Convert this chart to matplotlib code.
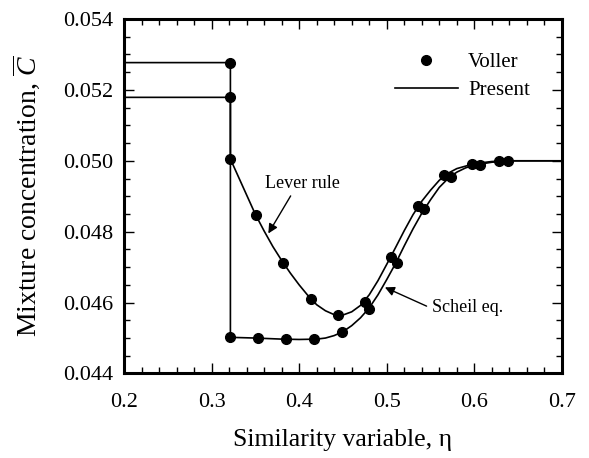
import matplotlib
matplotlib.use("Agg")
import matplotlib.pyplot as plt
from matplotlib.ticker import MultipleLocator, FormatStrFormatter
from matplotlib.lines import Line2D

plt.rcParams["font.family"] = ["Liberation Serif", "DejaVu Serif"]
plt.rcParams["mathtext.fontset"] = "custom"
plt.rcParams["mathtext.rm"] = "Liberation Serif"
plt.rcParams["mathtext.it"] = "Liberation Serif:italic"

# Voller data points
lever_pts_x = [0.3215, 0.3215, 0.3507, 0.3819, 0.4131, 0.4439, 0.4751, 0.5048, 0.536, 0.5657, 0.5976, 0.6285]
lever_pts_y = [0.05179, 0.05005, 0.04846, 0.04711, 0.04609, 0.04564, 0.04602, 0.04730, 0.04873, 0.04960, 0.04991, 0.05000]
scheil_pts_x = [0.3215, 0.3215, 0.3526, 0.3845, 0.4169, 0.4489, 0.480, 0.5113, 0.5425, 0.573, 0.6064, 0.638]
scheil_pts_y = [0.05277, 0.04502, 0.04500, 0.04496, 0.04497, 0.04517, 0.04583, 0.04713, 0.04864, 0.04955, 0.04989, 0.05000]

# Present results (curves)
lever_x = [0.20, 0.3215, 0.3215, 0.35, 0.36, 0.37, 0.38, 0.39, 0.40, 0.41, 0.42, 0.43, 0.44, 0.45,
           0.46, 0.47, 0.48, 0.49, 0.50, 0.51, 0.52, 0.53, 0.54, 0.55, 0.56, 0.57, 0.58, 0.60,
           0.62, 0.64, 0.70]
lever_y = [0.05179, 0.05179, 0.05005, 0.04849, 0.04802, 0.04758, 0.04719, 0.04683, 0.04650, 0.04620,
           0.04594, 0.04577, 0.04566, 0.04565, 0.04574, 0.04592, 0.04622, 0.04662, 0.04708, 0.04755,
           0.04803, 0.04848, 0.04886, 0.04917, 0.04945, 0.04965, 0.04978, 0.04992, 0.04998, 0.05000,
           0.05000]
scheil_x = [0.20, 0.3215, 0.3215, 0.35, 0.38, 0.40, 0.42, 0.43, 0.44, 0.45, 0.46, 0.47, 0.48, 0.49,
            0.50, 0.51, 0.52, 0.53, 0.54, 0.55, 0.56, 0.57, 0.58, 0.59, 0.60, 0.62, 0.64, 0.70]
scheil_y = [0.05277, 0.05277, 0.04502, 0.04500, 0.04497, 0.04496, 0.04497, 0.04500, 0.04507, 0.04518,
            0.04535, 0.04557, 0.04585, 0.04622, 0.04665, 0.04710, 0.04760, 0.04808, 0.04852, 0.04890,
            0.04925, 0.04950, 0.04968, 0.04980, 0.04988, 0.04996, 0.05000, 0.05000]

fig = plt.figure(figsize=(5.89, 4.58), dpi=100)
ax = fig.add_axes([0.2105, 0.1845, 0.7435, 0.774])

ax.plot(lever_x, lever_y, color="black", lw=1.2)
ax.plot(scheil_x, scheil_y, color="black", lw=1.2)
ax.plot(lever_pts_x, lever_pts_y, "o", color="black", ms=7)
ax.plot(scheil_pts_x, scheil_pts_y, "o", color="black", ms=7)

# annotation arrows + labels
arrow = dict(arrowstyle="-|>", color="black", lw=1, mutation_scale=14, shrinkA=0, shrinkB=0)
ax.annotate("", xy=(0.3648, 0.04795), xytext=(0.3903, 0.04901), arrowprops=arrow)
ax.text(0.4032, 0.04937, "Lever rule", fontsize=13, ha="center", va="center")
ax.annotate("", xy=(0.4979, 0.04643), xytext=(0.5455, 0.04590), arrowprops=arrow)
ax.text(0.5513, 0.04585, "Scheil eq.", fontsize=13, ha="left", va="center")

handles = [Line2D([], [], marker="o", ls="none", color="black", ms=7),
           Line2D([], [], color="black", lw=1.2)]
ax.legend(handles, ["Voller", "Present"], loc="upper left", bbox_to_anchor=(0.619, 0.905),
          frameon=False, fontsize=15, handlelength=3.0, handletextpad=0.5,
          labelspacing=0.4, borderpad=0, borderaxespad=0)

ax.set_xlim(0.2, 0.7)
ax.set_ylim(0.044, 0.054)
ax.xaxis.set_major_locator(MultipleLocator(0.1))
ax.xaxis.set_minor_locator(MultipleLocator(0.02))
ax.yaxis.set_major_locator(MultipleLocator(0.002))
ax.yaxis.set_minor_locator(MultipleLocator(0.0005))
ax.xaxis.set_major_formatter(FormatStrFormatter("%.1f"))
ax.yaxis.set_major_formatter(FormatStrFormatter("%.3f"))
ax.tick_params(which="both", direction="in", top=True, right=True, labelsize=16, width=1)
ax.tick_params(which="major", length=7)
ax.tick_params(which="minor", length=4)
ax.tick_params(axis="x", pad=14)
ax.tick_params(axis="y", pad=8)
for s in ax.spines.values():
    s.set_linewidth(2.2)

ax.set_xlabel("Similarity variable, η", fontsize=18.5, labelpad=12)
ax.set_ylabel(r"Mixture concentration, $\overline{C}$", fontsize=20, labelpad=14)

fig.savefig("out.png", dpi=100)
